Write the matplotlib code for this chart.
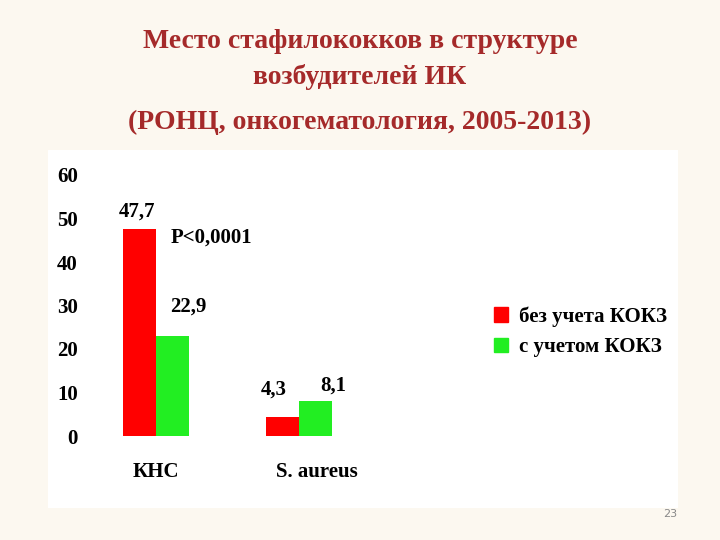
import matplotlib
matplotlib.use("Agg")
import matplotlib.pyplot as plt
import matplotlib.patches as mpatches

# ── data ──────────────────────────────────────────────
categories = ["КНС", "S. aureus"]
without_kokz = [47.7, 4.3]
with_kokz = [22.9, 8.1]
series_names = ["без учета КОКЗ", "с учетом КОКЗ"]
yticks = [0, 10, 20, 30, 40, 50, 60]

RED, GREEN = "#FF0000", "#22EE22"
SERIF = "Liberation Serif"
W, H = 720, 540

fig = plt.figure(figsize=(7.2, 5.4), dpi=100)
fig.patch.set_facecolor("#FCF8F0")

# white chart panel (separate background axes)
bg = fig.add_axes([48 / W, 1 - 508 / H, 630 / W, 358 / H])
bg.set_facecolor("white")
bg.set_axis_off()
bg.add_patch(mpatches.Rectangle((0, 0), 1, 1, transform=bg.transAxes, color="white"))

fig.text(0.5, 1 - 42 / H, "Место стафилококков в структуре", ha="center", va="center",
         fontsize=20, fontweight="bold", family=SERIF, color="#A52A2A")
fig.text(0.5, 1 - 77 / H, "возбудителей ИК", ha="center", va="center",
         fontsize=20, fontweight="bold", family=SERIF, color="#A52A2A")
fig.text(0.5, 1 - 122 / H, "(РОНЦ, онкогематология, 2005-2013)", ha="center", va="center",
         fontsize=20, fontweight="bold", family=SERIF, color="#A52A2A")

ax = fig.add_axes([100 / W, 1 - 436 / H, 360 / W, 261 / H])
ax.set_zorder(2)
ax.set_facecolor("none")
ax.set_xlim(-0.392, 2.126)
ax.set_ylim(0, 60)
bw = 0.23
x = [0, 1]
ax.bar([i - bw / 2 for i in x], without_kokz, width=bw, color=RED)
ax.bar([i + bw / 2 for i in x], with_kokz, width=bw, color=GREEN)
for s in ax.spines.values():
    s.set_visible(False)
ax.set_yticks(yticks)
ax.set_yticklabels([str(v) for v in yticks], family=SERIF, fontsize=15, fontweight="bold")
ax.tick_params(axis="y", length=0, pad=16)
ax.set_xticks([])

fs = dict(family=SERIF, fontsize=15, fontweight="bold")
ax.text(-0.26, 50.5, "47,7", **fs)
ax.text(0.10, 44.5, "P<0,0001", **fs)
ax.text(0.10, 28.5, "22,9", **fs)
ax.text(0.73, 9.5, "4,3", **fs)
ax.text(1.15, 10.5, "8,1", **fs)
for i, c in zip(x, categories):
    fig.text((156 + 143 * i - (0 if i == 0 else -18)) / W, 1 - 472 / H, c,
             ha="center", va="center", zorder=3, **fs)

ax.legend(handles=[mpatches.Patch(color=RED, label=series_names[0]),
                   mpatches.Patch(color=GREEN, label=series_names[1])],
          loc="center left", bbox_to_anchor=(475 / W, 1 - 332 / H),
          bbox_transform=fig.transFigure, frameon=False,
          prop=dict(family=SERIF, size=15, weight="bold"),
          handlelength=0.7, handleheight=0.7, handletextpad=0.5, labelspacing=0.5)

fig.text(670 / W, 1 - 514 / H, "23", ha="center", va="center", fontsize=8, color="#888888")

fig.savefig("out.png", dpi=100, facecolor=fig.get_facecolor())
